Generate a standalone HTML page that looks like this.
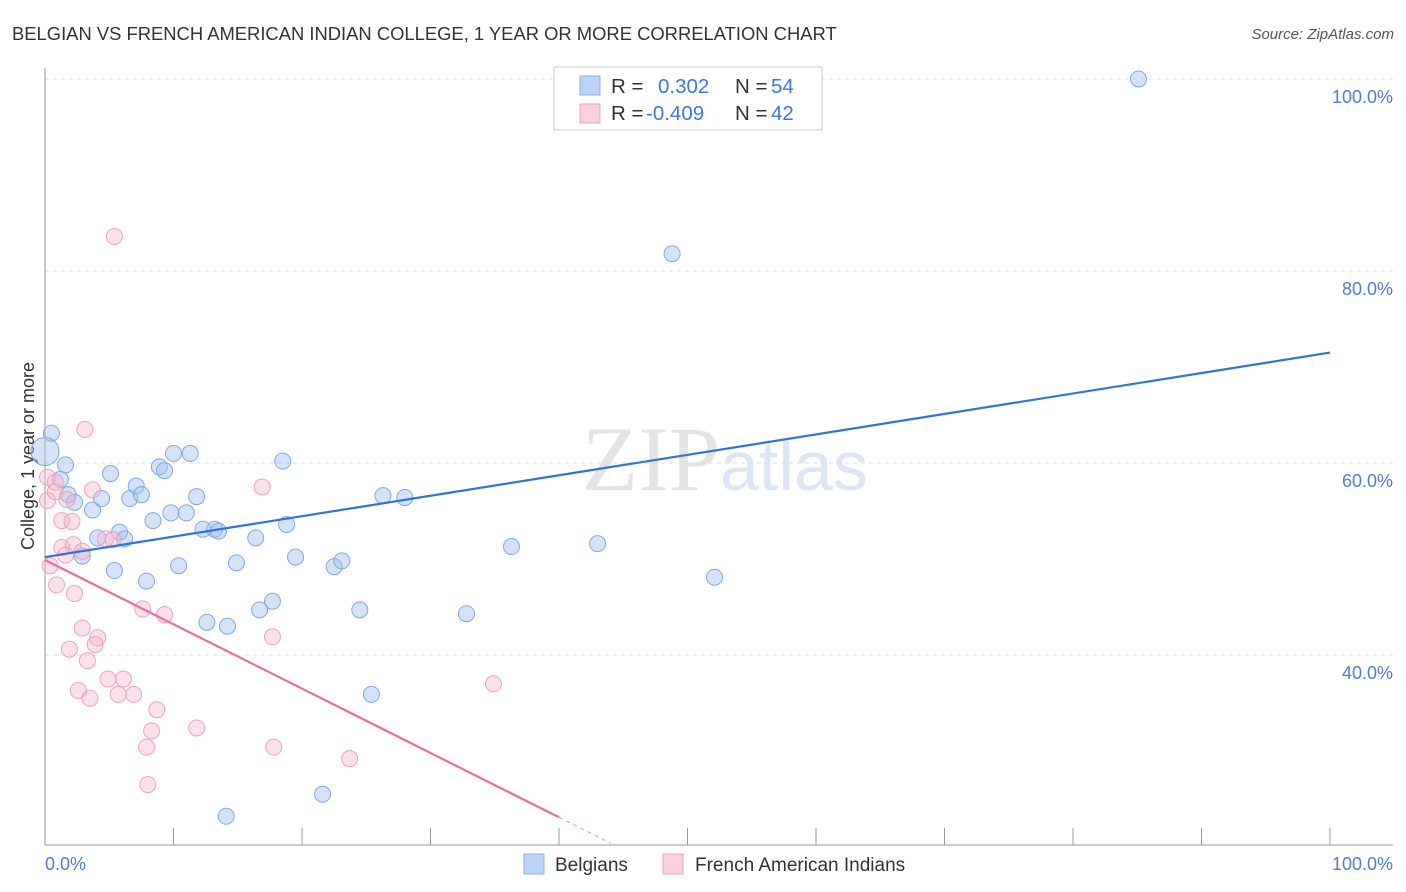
<!DOCTYPE html>
<html><head><meta charset="utf-8"><style>
body{margin:0;background:#fff;font-family:"Liberation Sans",sans-serif;}
#c{position:relative;width:1406px;height:892px;overflow:hidden}
</style></head><body>
<div id="c">
<svg id="s" width="1406" height="892" xmlns="http://www.w3.org/2000/svg">
<text x="12" y="40" font-size="18.4" fill="#333">BELGIAN VS FRENCH AMERICAN INDIAN COLLEGE, 1 YEAR OR MORE CORRELATION CHART</text>
<text x="1394" y="39" font-size="15" fill="#555" font-style="italic" text-anchor="end">Source: ZipAtlas.com</text>
<text x="720" y="490" font-size="92" fill="#e4e4e4" font-family="Liberation Serif" text-anchor="end">ZIP</text>
<text x="720" y="490" font-size="70" fill="#dce6f5">atlas</text>
<g id="grid"></g>
<line x1="45" y1="68" x2="45" y2="845" stroke="#999"/>
<line x1="45" y1="845" x2="1393" y2="845" stroke="#999"/>
<g id="xt"></g>
<text x="34" y="456" font-size="18" fill="#333" text-anchor="middle" transform="rotate(-90 34 456)">College, 1 year or more</text>
<text x="45" y="870" font-size="18" fill="#4a7fd4">0.0%</text>
<text x="1393" y="870" font-size="18" fill="#4a7fd4" text-anchor="end">100.0%</text>
<g id="pts"></g>
<g id="lines"></g>
<rect x="554" y="67" width="268" height="63" fill="#fff" stroke="#ccc"/>
<rect x="580" y="76" width="20" height="19" fill="#bcd3f7" stroke="#8ab0e8"/>
<rect x="580" y="104" width="20" height="19" fill="#fbd0dd" stroke="#f0a0bc"/>
<g font-size="20.5">
<text x="611" y="93" fill="#333">R =</text><text x="658" y="93" fill="#3c78d8">0.302</text>
<text x="735" y="93" fill="#333">N =</text><text x="771" y="93" fill="#3c78d8">54</text>
<text x="611" y="120" fill="#333">R =</text><text x="646" y="120" fill="#3c78d8">-0.409</text>
<text x="735" y="120" fill="#333">N =</text><text x="771" y="120" fill="#3c78d8">42</text>
</g>
<rect x="524" y="854" width="20" height="20" fill="#bcd3f7" stroke="#8ab0e8"/>
<text x="555" y="871" font-size="19" fill="#333">Belgians</text>
<rect x="663" y="854" width="20" height="20" fill="#fbd0dd" stroke="#f0a0bc"/>
<text x="695" y="871" font-size="19" fill="#333">French American Indians</text>
</svg></div>
<script>
const yTicks=[100,80,60,40];
const yTickLabels=["100.0%","80.0%","60.0%","40.0%"];
const belgX=[85.1,48.8,0.5,0,1.6,1.2,1.8,2.3,3.7,5.1,4.4,6.6,7.1,7.5,8.9,9.3,10.0,11.3,11.8,8.4,9.8,11.0,12.3,13.2,13.5,5.8,6.2,4.1,2.9,5.4,7.9,10.4,14.9,16.4,18.5,18.8,19.5,22.5,23.1,26.3,28.0,36.3,43.0,52.1,12.6,14.2,16.7,17.7,24.5,32.8,25.4,21.6,14.1];
const belgY=[100,81.8,63.1,61.2,59.8,58.3,56.7,55.9,55.1,58.9,56.3,56.3,57.6,56.7,59.6,59.2,61.0,61.0,56.5,54.0,54.8,54.8,53.1,53.1,52.9,52.8,52.1,52.2,50.3,48.8,47.7,49.3,49.6,52.2,60.2,53.6,50.2,49.2,49.8,56.6,56.4,51.3,51.6,48.1,43.4,43.0,44.7,45.6,44.7,44.3,35.9,25.5,23.2];
const frX=[5.4,3.1,16.9,0.2,0.8,0.2,0.8,1.7,3.7,1.3,2.1,1.3,2.2,1.6,2.9,0.4,4.7,5.3,0.9,2.3,7.6,9.3,2.9,4.1,3.9,1.9,17.7,3.3,4.9,6.1,2.6,3.5,5.7,6.9,8.7,8.3,11.8,7.9,17.8,34.9,23.7,8.0];
const frY=[83.6,63.5,57.5,58.5,58.0,56.1,57.0,56.2,57.2,54.0,53.9,51.2,51.5,50.4,50.8,49.3,52.1,52.0,47.3,46.4,44.8,44.2,42.8,41.8,41.1,40.6,41.9,39.4,37.5,37.5,36.3,35.5,35.9,35.9,34.3,32.1,32.4,30.4,30.4,37.0,29.2,26.5];
const belgLine=[50.2,71.5];
const frLine=[49.9,23.1];
const X=v=>45+v*12.85, Y=v=>79+(100-v)*9.6;
const NS="http://www.w3.org/2000/svg";
function mk(t,a,p){const e=document.createElementNS(NS,t);for(const k in a)e.setAttribute(k,a[k]);p.appendChild(e);return e;}
const g=document.getElementById('grid');
yTicks.forEach((v,i)=>{
 const l=mk('line',{x1:45,x2:1393,y1:Y(v),y2:Y(v),stroke:'#ddd','stroke-dasharray':'4,4'},g);
 
 
 const t=mk('text',{x:1393,y:Y(v)+24,'font-size':18,fill:'#4a7fd4','text-anchor':'end'},g);
 t.textContent=yTickLabels[i];
 
 
});
const xt=document.getElementById('xt');
for(let i=1;i<=10;i++){
 const l=mk('line',{x1:X(i*10),x2:X(i*10),y1:828,y2:845,stroke:'#999'},xt);
 
 
}
const pts=document.getElementById('pts');
belgX.forEach((x,i)=>{
 const c=mk('circle',{cx:X(x),cy:Y(belgY[i]),r:(i===3?14:8),fill:'rgba(160,192,240,0.45)',stroke:'#7fa8e6','stroke-width':1},pts);
 
 
});
frX.forEach((x,i)=>{
 const c=mk('circle',{cx:X(x),cy:Y(frY[i]),r:8,fill:'rgba(248,180,202,0.4)',stroke:'#f0a0bc','stroke-width':1},pts);
 
 
});
const ln=document.getElementById('lines');
const b=mk('line',{x1:X(0),y1:Y(belgLine[0]),x2:X(100),y2:Y(belgLine[1]),stroke:'#2f74d8','stroke-width':2.2},ln);


const fy=x=>frLine[0]+(frLine[1]-frLine[0])*x/40;
const f=mk('line',{x1:X(0),y1:Y(fy(0)),x2:X(40),y2:Y(fy(40)),stroke:'#e8709a','stroke-width':2.2},ln);


const fd=mk('line',{x1:X(40),y1:Y(fy(40)),x2:X(44),y2:Y(fy(44)),stroke:'#e8a0b8','stroke-width':1.2,'stroke-dasharray':'4,4'},ln);


</script>
</body></html>
